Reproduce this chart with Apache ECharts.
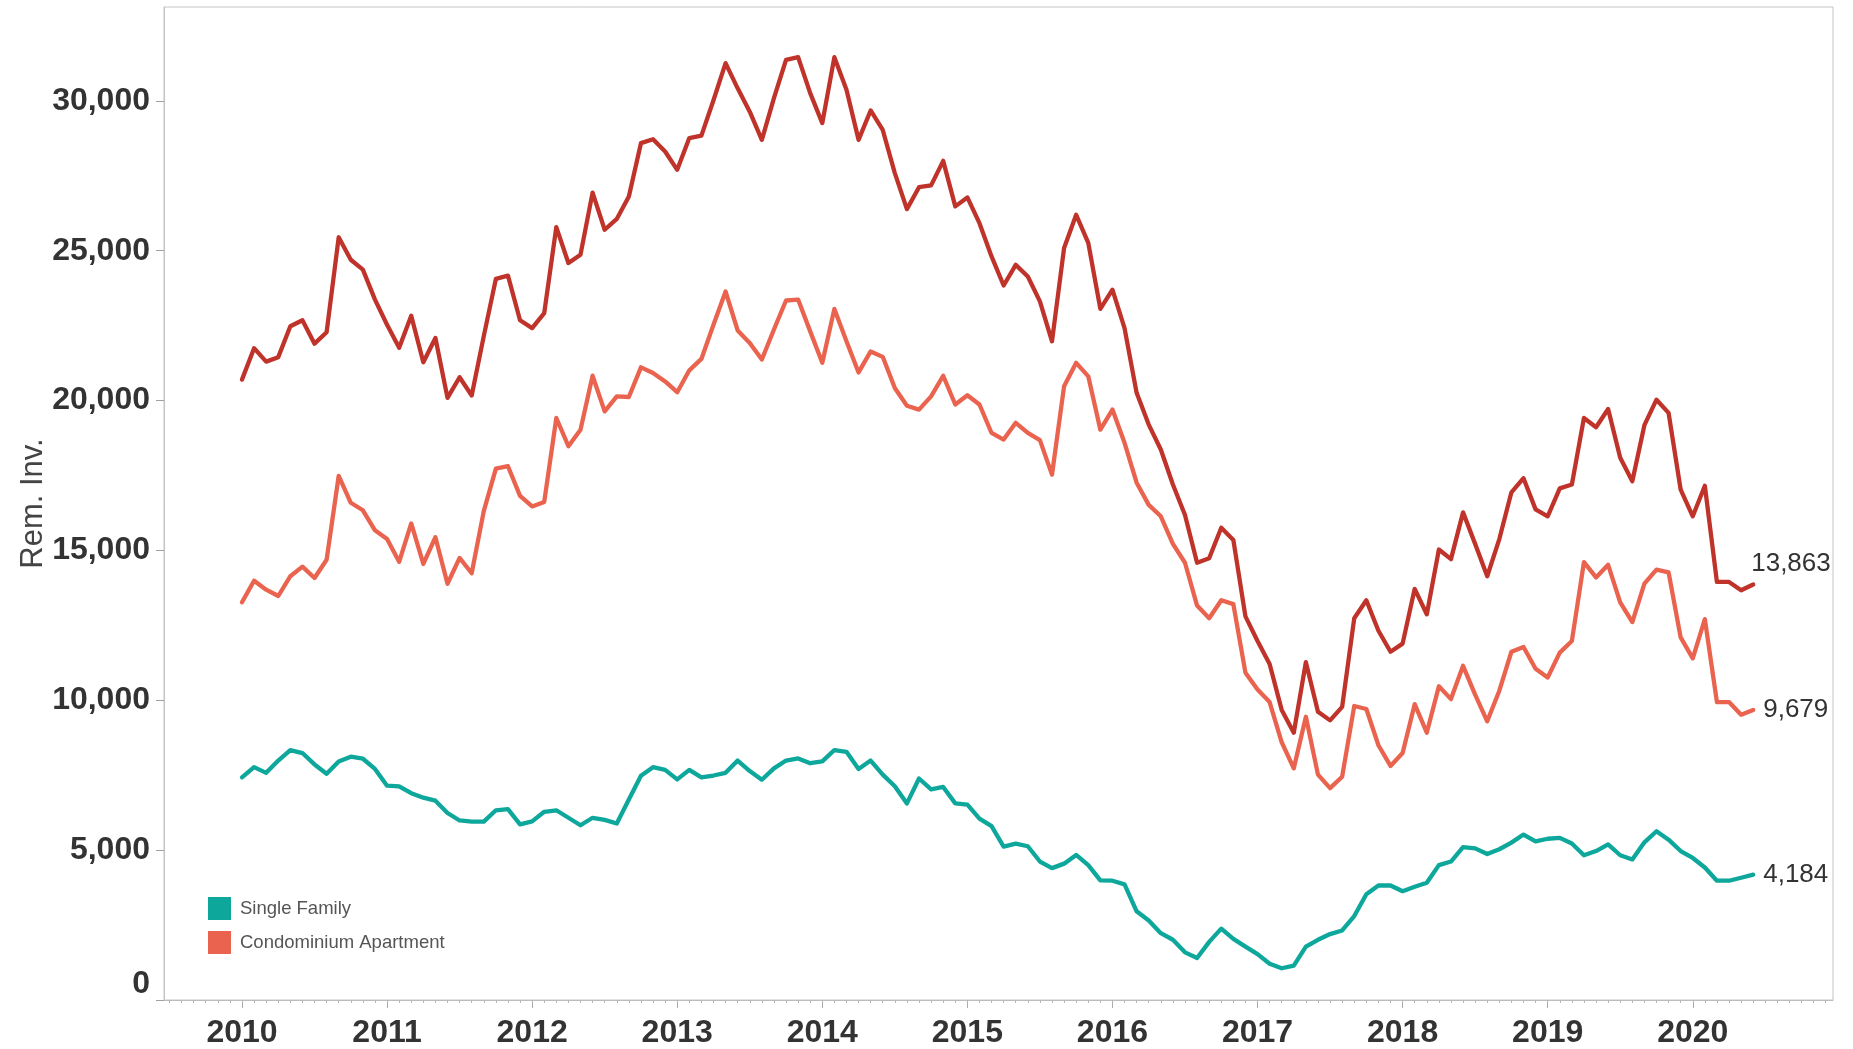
<!DOCTYPE html>
<html>
<head>
<meta charset="utf-8">
<script src="https://cdn.jsdelivr.net/npm/echarts@6/dist/echarts.min.js"></script>
<style>
html,body{margin:0;padding:0;background:#fff;}
#c{width:1853px;height:1049px;}
</style>
</head>
<body>
<div id="c"></div>
<script>
// x = months since Jan 2010 (0 = 2010-01, 125 = 2020-06)
const startYear = 2010;
const yearTicks = [2010, 2011, 2012, 2013, 2014, 2015, 2016, 2017, 2018, 2019, 2020];
const yTicks = [0, 5000, 10000, 15000, 20000, 25000, 30000];
const legendNames = ['Single Family', 'Condominium Apartment'];

const totalInv = [
  20700, 21750, 21300, 21450, 22480, 22680, 21900, 22280, 25450, 24700, 24370, 23370,
  22530, 21760, 22830, 21280, 22090, 20090, 20780, 20170, 22150, 24060, 24170, 22680,
  22420, 22920, 25790, 24590, 24870, 26940, 25700, 26060, 26810, 28590, 28720, 28310,
  27700, 28760, 28840, 30020, 31260, 30420, 29640, 28700, 30090, 31370, 31460, 30260,
  29260, 31460, 30370, 28700, 29680, 29030, 27590, 26390, 27120, 27180, 28000, 26480,
  26780, 25920, 24810, 23840, 24530, 24140, 23310, 21980, 25090, 26200, 25260, 23060,
  23700, 22420, 20260, 19200, 18370, 17200, 16180, 14590, 14740, 15760, 15350, 12800,
  11980, 11210, 9680, 8920, 11270, 9620, 9330, 9780, 12740, 13340, 12320, 11620,
  11890, 13720, 12870, 15030, 14710, 16270, 15220, 14140, 15380, 16940, 17410, 16370,
  16140, 17070, 17200, 19420, 19110, 19720, 18090, 17310, 19180, 20030, 19590, 17030,
  16140, 17160, 13950, 13950, 13670, 13863
];
const condoInv = [
  13270, 13990, 13690, 13480, 14140, 14460, 14080, 14690, 17490, 16590, 16340, 15670,
  15380, 14620, 15900, 14550, 15440, 13890, 14750, 14240, 16310, 17730, 17810, 16820,
  16470, 16620, 19420, 18480, 19030, 20830, 19640, 20140, 20120, 21110, 20920, 20640,
  20280, 21010, 21390, 22530, 23640, 22340, 21920, 21370, 22370, 23340, 23370, 22310,
  21260, 23060, 21980, 20940, 21640, 21460, 20420, 19830, 19700, 20140, 20830, 19870,
  20180, 19870, 18920, 18700, 19260, 18920, 18680, 17530, 20480, 21260, 20810, 19030,
  19700, 18590, 17260, 16520, 16140, 15220, 14590, 13160, 12740, 13340, 13210, 10920,
  10360, 9940, 8600, 7730, 9450, 7520, 7070, 7450, 9810, 9710, 8500, 7810,
  8240, 9870, 8920, 10470, 10040, 11150, 10190, 9300, 10320, 11620, 11780, 11050,
  10760, 11590, 11980, 14610, 14100, 14520, 13270, 12610, 13890, 14360, 14270, 12100,
  11400, 12710, 9940, 9940, 9520, 9679
];
const singleInv = [
  7430, 7770, 7580, 7990, 8340, 8240, 7860, 7550, 7960, 8120, 8050, 7710,
  7150, 7130, 6900, 6750, 6650, 6240, 5990, 5950, 5950, 6330, 6370, 5860,
  5960, 6280, 6330, 6080, 5830, 6080, 6010, 5890, 6690, 7480, 7770, 7680,
  7360, 7680, 7430, 7490, 7580, 7990, 7640, 7350, 7730, 7990, 8060, 7900,
  7960, 8340, 8280, 7710, 7990, 7520, 7130, 6560, 7390, 7030, 7110, 6560,
  6520, 6050, 5800, 5120, 5220, 5130, 4620, 4400, 4550, 4840, 4500, 3990,
  3980, 3860, 2960, 2650, 2230, 2010, 1590, 1400, 1940, 2380, 2040, 1780,
  1530, 1210, 1060, 1150, 1780, 2010, 2200, 2320, 2800, 3530, 3820, 3820,
  3630, 3780, 3910, 4500, 4620, 5100, 5060, 4870, 5030, 5250, 5520, 5290,
  5380, 5410, 5220, 4830, 4970, 5190, 4830, 4690, 5260, 5630, 5350, 4970,
  4740, 4420, 3980, 3980, 4080, 4184
];

const FONT = '"Liberation Sans", Arial, sans-serif';
const toPairs = arr => arr.map((v, i) => [i, v]);
const yearPos = yearTicks.map(y => (y - startYear) * 12);
const monthPos = [];
for (let m = -6; m <= 131; m++) monthPos.push(m);
const fmt = v => Number(v).toLocaleString('en-US');

const chart = echarts.init(document.getElementById('c'), null, {renderer: 'canvas'});

function lineSeries(name, data, color, labelOffset) {
  return {
    name: name,
    type: 'line',
    data: toPairs(data),
    xAxisIndex: 0,
    showSymbol: false,
    symbol: 'none',
    animation: false,
    lineStyle: {color: color, width: 4.3, join: 'round', cap: 'round'},
    itemStyle: {color: color},
    endLabel: {
      show: true,
      formatter: p => fmt(p.value[1]),
      fontFamily: FONT,
      fontSize: 26,
      color: '#333',
      distance: 10,
      offset: labelOffset
    },
    emphasis: {disabled: true}
  };
}

chart.setOption({
  animation: false,
  backgroundColor: '#fff',
  grid: {
    left: 164, right: 20, top: 7, bottom: 48,
    show: true, borderColor: '#c4c4c4', borderWidth: 1,
    containLabel: false
  },
  legend: {
    data: legendNames,
    orient: 'vertical',
    left: 203, top: 892,
    itemWidth: 23, itemHeight: 23, itemGap: 11,
    icon: 'rect',
    textStyle: {fontFamily: FONT, fontSize: 18.5, color: '#555', padding: [0, 0, 0, 4]},
    selectedMode: false
  },
  xAxis: [
    {
      type: 'value', min: -6.45, max: 131.6,
      axisLine: {show: true, onZero: false, lineStyle: {color: '#bdbdbd', width: 1}},
      axisTick: {show: true, customValues: yearPos, length: 8, lineStyle: {color: '#aaaaaa'}},
      axisLabel: {
        show: true, customValues: yearPos,
        formatter: v => String(startYear + Math.round(v / 12)),
        fontFamily: FONT, fontSize: 32, fontWeight: 'bold', color: '#333', margin: 17
      },
      splitLine: {show: false}
    },
    {
      type: 'value', min: -6.45, max: 131.6, position: 'bottom',
      axisLine: {show: false, onZero: false},
      axisTick: {show: true, customValues: monthPos, length: 3, lineStyle: {color: '#b5b5b5'}},
      axisLabel: {show: false},
      splitLine: {show: false}
    }
  ],
  yAxis: [
    {
      type: 'value', min: 0, max: 33133, position: 'left',
      name: 'Rem. Inv.', nameLocation: 'middle', nameGap: 115, nameMoveOverlap: false,
      nameTextStyle: {fontFamily: FONT, fontSize: 31, color: '#444'},
      axisLine: {show: true, onZero: false, lineStyle: {color: '#c4c4c4', width: 1}},
      axisTick: {show: true, inside: false, customValues: yTicks, length: 8, lineStyle: {color: '#a0a0a0', width: 1}},
      axisLabel: {
        show: true, customValues: yTicks,
        formatter: v => fmt(v),
        fontFamily: FONT, fontSize: 32, fontWeight: 'bold', color: '#333', margin: 14,
        verticalAlignMinLabel: 'bottom'
      },
      splitLine: {show: false}
    }
  ],
  series: [
    lineSeries('Single Family', singleInv, '#0ea79b', [0, 0]),
    lineSeries('Condominium Apartment', condoInv, '#ea634f', [0, 0]),
    lineSeries('Total', totalInv, '#c0332a', [-12, -21])
  ]
});
</script>
</body>
</html>
